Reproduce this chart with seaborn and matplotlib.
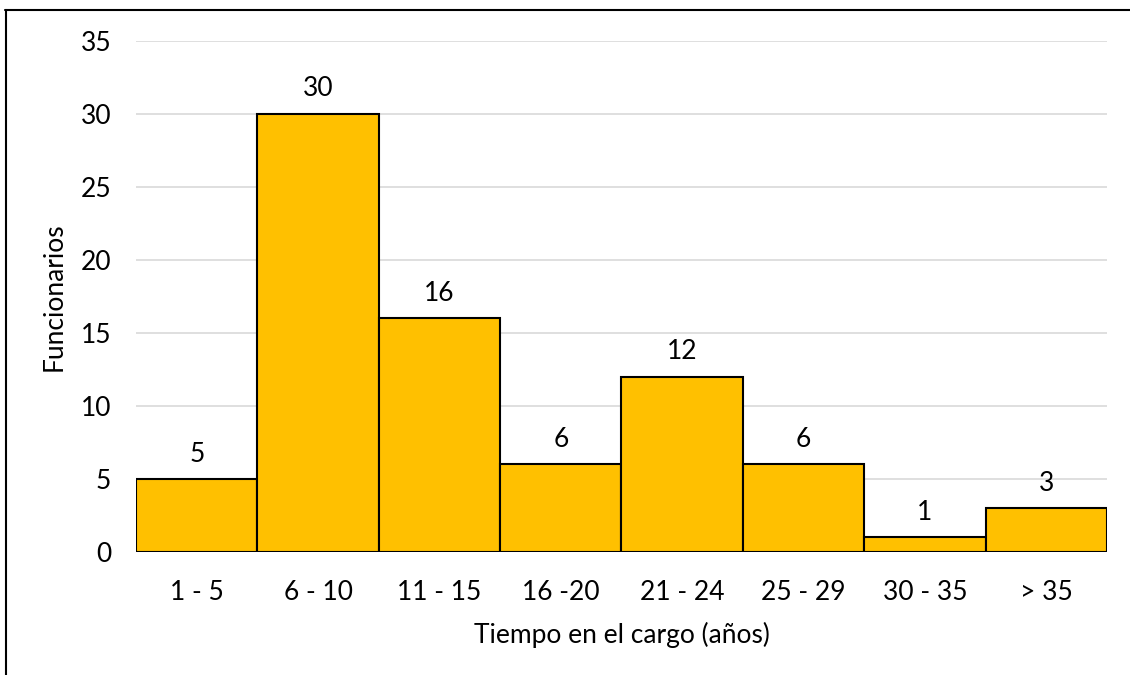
import matplotlib
matplotlib.use("Agg")
import matplotlib.pyplot as plt
import seaborn as sns
import pandas as pd
from matplotlib.lines import Line2D

categorias = ["1 - 5", "6 - 10", "11 - 15", "16 -20", "21 - 24", "25 - 29", "30 - 35", "> 35"]
funcionarios = [5, 30, 16, 6, 12, 6, 1, 3]
yticks = [0, 5, 10, 15, 20, 25, 30, 35]

df = pd.DataFrame({"rango": categorias, "n": funcionarios})

sns.set_theme(style="white")
plt.rcParams["font.family"] = ["Lato", "DejaVu Sans"]
FS = 19

fig = plt.figure(figsize=(11.3, 6.75), dpi=100)
ax = fig.add_axes([0.1204, 0.1822, 0.8592, 0.7571])

sns.barplot(data=df, x="rango", y="n", color="#FFC000", width=1.0,
            edgecolor="black", linewidth=1.5, saturation=1, ax=ax, zorder=3)

ax.set_ylim(0, 35)
ax.set_xlim(-0.5, len(categorias) - 0.5)
ax.set_yticks(yticks)
ax.yaxis.grid(True, color="#D9D9D9", linewidth=1.2, zorder=0)
ax.set_axisbelow(True)
for s in ax.spines.values():
    s.set_visible(False)
ax.tick_params(axis="both", length=0, labelsize=FS, colors="black")
ax.tick_params(axis="x", pad=20)
ax.tick_params(axis="y", pad=18)

for i, v in enumerate(funcionarios):
    ax.annotate(str(v), (i, v), xytext=(0, 9), textcoords="offset points",
                ha="center", va="bottom", fontsize=FS, color="black")

ax.set_xlabel("Tiempo en el cargo (años)", fontsize=FS, labelpad=12, color="black")
ax.set_ylabel("Funcionarios", fontsize=FS, labelpad=10, color="black")

# frame of the chart area (top and left edges)
fig.add_artist(Line2D([5 / 1130, 1], [1 - 10 / 675, 1 - 10 / 675],
                      transform=fig.transFigure, color="black", linewidth=1.5))
fig.add_artist(Line2D([6 / 1130, 6 / 1130], [0, 1 - 10 / 675],
                      transform=fig.transFigure, color="black", linewidth=1.5))

fig.savefig("out.png", dpi=100)
